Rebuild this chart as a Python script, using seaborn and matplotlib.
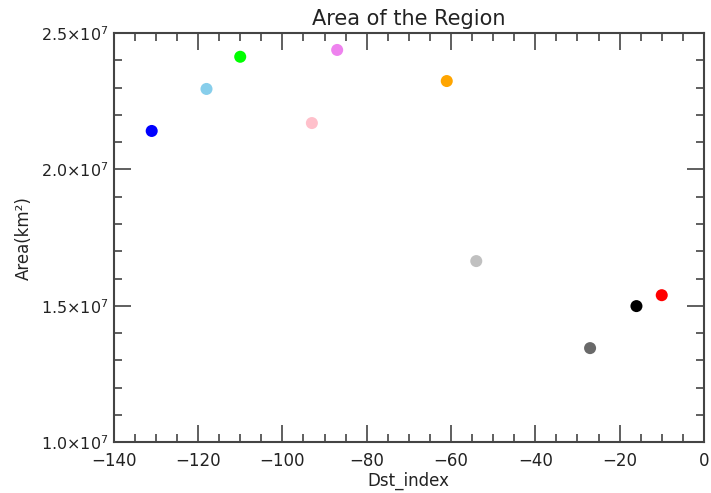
import pandas as pd
import matplotlib.pyplot as plt
import matplotlib.ticker as mticker
import seaborn as sns

# values
dst_index = [-131, -118, -110, -93, -87, -61, -54, -27, -16, -10]
area = [2.141e7, 2.295e7, 2.413e7, 2.170e7, 2.438e7, 2.324e7, 1.664e7, 1.345e7, 1.499e7, 1.539e7]
colors = ['blue', 'skyblue', 'lime', 'pink', 'violet', 'orange', 'silver', 'dimgray', 'black', 'red']

df = pd.DataFrame({'Dst_index': dst_index, 'Area': area, 'c': colors})

sns.set_style('white')
plt.rcParams['font.family'] = ['DejaVu Sans']
plt.rcParams['mathtext.fontset'] = 'dejavusans'

fig = plt.figure(figsize=(7.11, 4.93), dpi=100)
ax = fig.add_axes([0.160, 0.103, 0.830, 0.830])

sns.scatterplot(data=df, x='Dst_index', y='Area', hue='c',
                palette=dict(zip(colors, colors)), s=75, edgecolor='none',
                legend=False, ax=ax)

ax.set_xlim(-140, 0)
ax.set_ylim(1.0e7, 2.5e7)
ax.xaxis.set_major_locator(mticker.MultipleLocator(20))
ax.xaxis.set_minor_locator(mticker.MultipleLocator(5))
ax.yaxis.set_major_locator(mticker.MultipleLocator(5e6))
ax.yaxis.set_minor_locator(mticker.MultipleLocator(1e6))

ax.xaxis.set_major_formatter(mticker.FuncFormatter(lambda v, p: f'{v:.0f}'.replace('-', '\u2212')))
ax.yaxis.set_major_formatter(mticker.FuncFormatter(lambda v, p: f'{v/1e7:.1f}\u00d710$^{{7}}$'))

ax.tick_params(which='both', direction='in', top=True, right=True, bottom=True, left=True,
               color='#444444', labelsize=12, labelcolor='#222222', width=1.2)
ax.tick_params(which='major', length=12, pad=7)
ax.tick_params(which='minor', length=6)
ax.tick_params(axis='y', which='major', pad=4, labelsize=11.5)
for sp in ax.spines.values():
    sp.set_color('#444444')
    sp.set_linewidth(1.5)

ax.set_title('Area of the Region', fontsize=15, color='#222222', pad=6)
ax.set_xlabel('Dst_index', fontsize=12, color='#222222', labelpad=1)
ax.set_ylabel('Area(km\u00b2)', fontsize=12, color='#222222', labelpad=6)

fig.savefig('out.png', dpi=100)
